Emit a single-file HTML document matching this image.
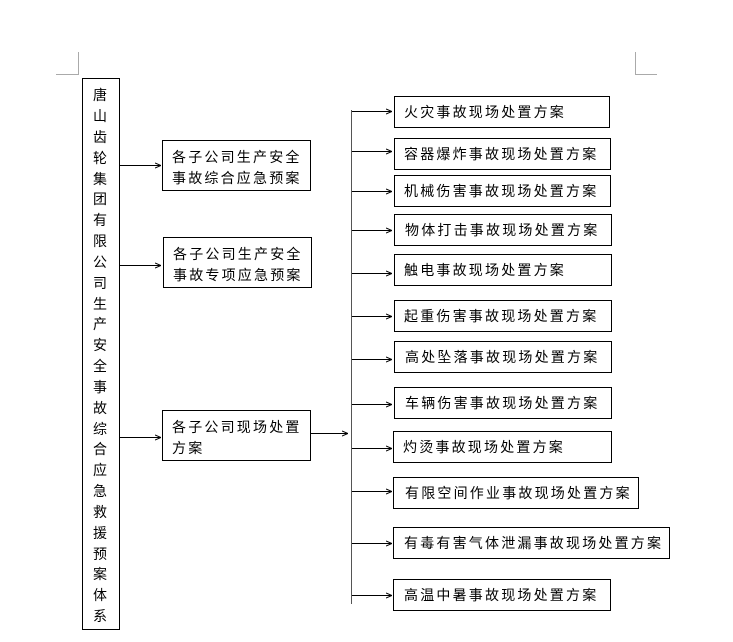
<!DOCTYPE html>
<html><head><meta charset="utf-8"><style>
html,body{margin:0;padding:0;background:#fff;}
svg{display:block;}
text{font-family:"Liberation Sans","Noto Sans CJK SC","WenQuanYi Zen Hei",sans-serif;font-size:14px;fill:#000;letter-spacing:2.2px;}
</style></head><body>
<svg width="733" height="642" viewBox="0 0 733 642" xmlns="http://www.w3.org/2000/svg">
<defs><marker id="a" markerWidth="6" markerHeight="6" refX="6" refY="3" orient="auto" markerUnits="userSpaceOnUse"><path d="M0,0.5 L6,3 L0,5.5" fill="none" stroke="#000" stroke-width="1"/></marker></defs>
<g stroke="#aaa" stroke-width="1" fill="none">
<path d="M56,74.5 H78.5 V52"/><path d="M635.5,52 V74.5 H657"/>
</g>
<g stroke="#000" stroke-width="1" fill="#fff">
<rect x="82.5" y="78.5" width="37" height="551"/>
<rect x="162.5" y="140.5" width="148" height="50"/>
<rect x="163.5" y="237.5" width="148" height="50"/>
<rect x="162.5" y="410.5" width="148" height="50"/>
<rect x="394.5" y="96.5" width="215" height="31"/>
<rect x="394.5" y="138.5" width="216" height="31"/>
<rect x="394.5" y="175.5" width="216" height="31"/>
<rect x="394.5" y="214.5" width="217" height="31"/>
<rect x="394.5" y="254.5" width="217" height="31"/>
<rect x="394.5" y="300.5" width="217" height="31"/>
<rect x="394.5" y="341.5" width="217" height="31"/>
<rect x="394.5" y="387.5" width="217" height="31"/>
<rect x="393.5" y="431.5" width="218" height="31"/>
<rect x="393.5" y="477.5" width="245" height="31"/>
<rect x="393.5" y="527.5" width="276" height="31"/>
<rect x="393.5" y="579.5" width="217" height="31"/>
</g>
<g stroke="#000" stroke-width="1" fill="none">
<line x1="119" y1="165.5" x2="161" y2="165.5" marker-end="url(#a)"/>
<line x1="119" y1="265.5" x2="161" y2="265.5" marker-end="url(#a)"/>
<line x1="119" y1="437.5" x2="161" y2="437.5" marker-end="url(#a)"/>
<line x1="310" y1="433.5" x2="348" y2="433.5" marker-end="url(#a)"/>
<line x1="351.5" y1="110" x2="351.5" y2="604" stroke="#555"/>
<line x1="352" y1="111.5" x2="392" y2="111.5" marker-end="url(#a)"/>
<line x1="352" y1="151.5" x2="392" y2="151.5" marker-end="url(#a)"/>
<line x1="352" y1="191.5" x2="392" y2="191.5" marker-end="url(#a)"/>
<line x1="352" y1="230.5" x2="392" y2="230.5" marker-end="url(#a)"/>
<line x1="352" y1="273.5" x2="392" y2="273.5" marker-end="url(#a)"/>
<line x1="352" y1="316.5" x2="392" y2="316.5" marker-end="url(#a)"/>
<line x1="352" y1="359.5" x2="392" y2="359.5" marker-end="url(#a)"/>
<line x1="352" y1="404.5" x2="392" y2="404.5" marker-end="url(#a)"/>
<line x1="352" y1="448.5" x2="392" y2="448.5" marker-end="url(#a)"/>
<line x1="352" y1="491.5" x2="392" y2="491.5" marker-end="url(#a)"/>
<line x1="352" y1="543.5" x2="392" y2="543.5" marker-end="url(#a)"/>
<line x1="352" y1="595.5" x2="392" y2="595.5" marker-end="url(#a)"/>
</g>
<g>
<text x="93" y="100">唐</text><text x="93" y="121">山</text><text x="93" y="142">齿</text><text x="93" y="163">轮</text><text x="93" y="184">集</text><text x="93" y="204">团</text><text x="93" y="225">有</text><text x="93" y="246">限</text><text x="93" y="267">公</text><text x="93" y="288">司</text><text x="93" y="309">生</text><text x="93" y="329">产</text><text x="93" y="350">安</text><text x="93" y="371">全</text><text x="93" y="392">事</text><text x="93" y="413">故</text><text x="93" y="434">综</text><text x="93" y="454">合</text><text x="93" y="475">应</text><text x="93" y="496">急</text><text x="93" y="517">救</text><text x="93" y="538">援</text><text x="93" y="559">预</text><text x="93" y="579">案</text><text x="93" y="600">体</text><text x="93" y="621">系</text>
<text x="172" y="162">各子公司生产安全</text><text x="172" y="183">事故综合应急预案</text>
<text x="173" y="259">各子公司生产安全</text><text x="173" y="280">事故专项应急预案</text>
<text x="172" y="432">各子公司现场处置</text><text x="172" y="453">方案</text>
<text x="404" y="117">火灾事故现场处置方案</text>
<text x="404" y="159">容器爆炸事故现场处置方案</text>
<text x="404" y="196">机械伤害事故现场处置方案</text>
<text x="405" y="235">物体打击事故现场处置方案</text>
<text x="404" y="275">触电事故现场处置方案</text>
<text x="404" y="321">起重伤害事故现场处置方案</text>
<text x="405" y="362">高处坠落事故现场处置方案</text>
<text x="405" y="408">车辆伤害事故现场处置方案</text>
<text x="403" y="452">灼烫事故现场处置方案</text>
<text x="405" y="498">有限空间作业事故现场处置方案</text>
<text x="404" y="548">有毒有害气体泄漏事故现场处置方案</text>
<text x="404" y="600">高温中暑事故现场处置方案</text>
</g>
</svg>
</body></html>
